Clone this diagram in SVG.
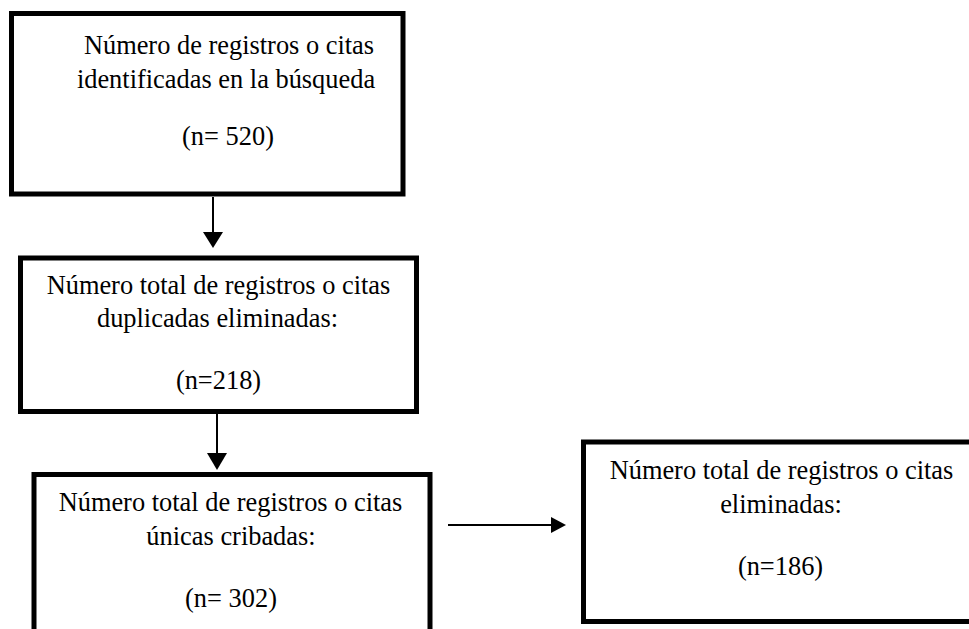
<svg xmlns="http://www.w3.org/2000/svg" width="969" height="629" viewBox="0 0 969 629">
<style>
.box{fill:#fff;stroke:#000;stroke-width:5}
.t{font-family:"Liberation Serif","Times New Roman",serif;font-size:26.4px;fill:#000;text-anchor:middle}
.ln{stroke:#000;stroke-width:2;fill:none}
.hd{fill:#000}
</style>
<rect width="969" height="629" fill="#fff"/>
<g id="node1">
<rect class="box" x="11.5" y="13.5" width="391.5" height="180.5"/>
<text class="t" x="229" y="54">Número de registros o citas</text>
<text class="t" x="226" y="88">identificadas en la búsqueda</text>
<text class="t" x="228" y="145">(n= 520)</text>
</g>
<g id="node2">
<rect class="box" x="20.5" y="258" width="396" height="153.5"/>
<text class="t" x="218.5" y="294">Número total de registros o citas</text>
<text class="t" x="217.5" y="327">duplicadas eliminadas:</text>
<text class="t" x="218.5" y="389">(n=218)</text>
</g>
<g id="node3">
<rect class="box" x="34" y="474.5" width="396" height="170"/>
<text class="t" x="230.5" y="511">Número total de registros o citas</text>
<text class="t" x="231" y="545">únicas cribadas:</text>
<text class="t" x="231" y="607">(n= 302)</text>
</g>
<g id="node4">
<rect class="box" x="583.5" y="442" width="400" height="179.5"/>
<text class="t" x="781.5" y="479">Número total de registros o citas</text>
<text class="t" x="781" y="513">eliminadas:</text>
<text class="t" x="780.5" y="575">(n=186)</text>
</g>
<g id="connectors">
<line class="ln" x1="213" y1="197" x2="213" y2="234"/>
<polygon class="hd" points="203,232 223,232 213,248"/>
<line class="ln" x1="217" y1="414" x2="217" y2="455"/>
<polygon class="hd" points="207,453 227,453 217,470"/>
<line class="ln" x1="448" y1="525" x2="553" y2="525"/>
<polygon class="hd" points="551,517 551,533 566,525"/>
</g>
</svg>
